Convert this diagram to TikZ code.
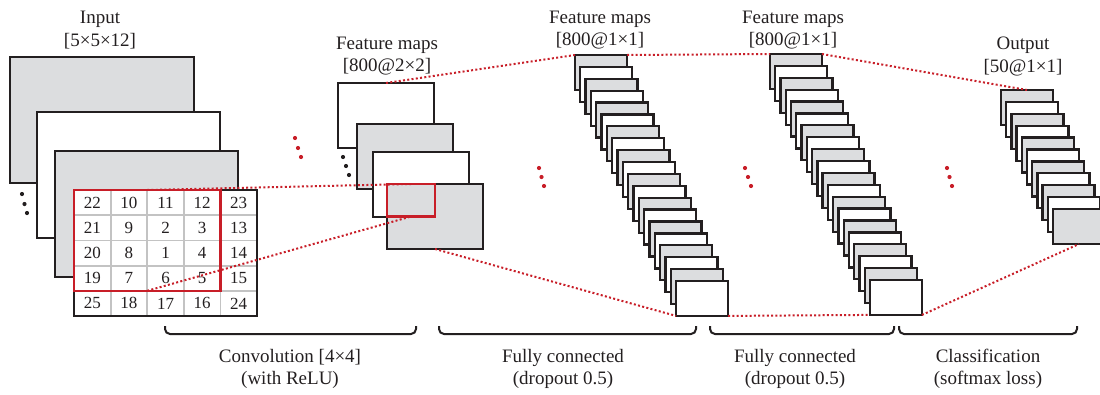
\documentclass[tikz,border=0pt]{standalone}
\usepackage{fontspec}
\setmainfont{Liberation Serif}
\definecolor{boxgray}{RGB}{220,221,223}
\definecolor{edge}{RGB}{35,31,32}
\definecolor{netred}{RGB}{200,30,40}
\definecolor{gridgray}{RGB}{195,195,195}
\begin{document}
\begin{tikzpicture}[x=1pt,y=-1pt,
  sheet/.style={draw=edge,line width=2.3pt,inner sep=0pt,outer sep=0pt,anchor=north west},
  bigsheet/.style={sheet,minimum width=183pt,minimum height=126pt},
  midsheet/.style={sheet,minimum width=96pt,minimum height=65pt},
  smallsheet/.style={sheet,minimum width=52pt,minimum height=35pt},
  redbox/.style={draw=netred,line width=2.2pt,inner sep=0pt,outer sep=0pt,anchor=north west},
  reddot/.style={draw=netred,line width=2pt,dash pattern=on 2pt off 2.3pt},
  lbl/.style={text=edge,font=\fontsize{19}{23}\selectfont,inner sep=0pt,anchor=base},
  num/.style={text=edge,font=\fontsize{17}{20}\selectfont,inner sep=0pt},
  bracket/.style={draw=edge,line width=2pt,rounded corners=5pt},
  blackdot/.style={fill=edge},
  reddotf/.style={fill=netred}
]
\useasboundingbox (0,0) rectangle (1100,394);

% ---------- Input stack ----------
\node[bigsheet,fill=boxgray,minimum width=184pt] (in1) at (10,57) {};
\node[bigsheet,fill=white] (in2) at (37,112) {};
\node[bigsheet,fill=boxgray] (in3) at (55,151) {};
\node[bigsheet,fill=white] (grid) at (74,190) {};
\draw[gridgray,line width=1.8pt]
  \foreach \k in {1,...,4} {(74+36.6*\k,191) -- (74+36.6*\k,315)}
  \foreach \k in {1,...,4} {(75,190+25.2*\k) -- (256,190+25.2*\k)};
\draw[draw=edge,line width=2.3pt] (grid.north west) rectangle (grid.south east);
\foreach \r [count=\j from 0] in {{22,10,11,12,23},{21,9,2,3,13},{20,8,1,4,14},{19,7,6,5,15},{25,18,17,16,24}} {
  \foreach \v [count=\c from 0] in \r {
    \node[num] (n\j\c) at (74+18.3+36.6*\c,190+12.6+25.2*\j) {\v};
  }
}
\node[redbox,minimum width=146.4pt,minimum height=100.8pt] (gred) at (74,190) {};

\node[lbl] (inA) at (100,23) {Input};
\node[lbl] (inB) at (100,46) {[5×5×12]};

% ---------- Feature maps 2x2 ----------
\node[midsheet,fill=white] (fm1) at (338,83) {};
\node[midsheet,fill=boxgray] (fm2) at (357,124) {};
\node[midsheet,fill=white] (fm3) at (373,152) {};
\node[midsheet,fill=boxgray] (fm4) at (387,184) {};
\node[redbox,minimum width=48pt,minimum height=32.5pt] (fred) at (387,184) {};
\node[lbl] (fmA) at (387,49) {Feature maps};
\node[lbl] (fmB) at (387,71) {[800@2×2]};

% ---------- FC1 stack ----------
\foreach \i in {0,...,19} {
  \ifodd\i\def\fc{white}\else\def\fc{boxgray}\fi
  \node[smallsheet,fill=\fc] (fa\i) at (575+5.32*\i,55+11.89*\i) {};
}
\node[lbl] (faA) at (600,23) {Feature maps};
\node[lbl] (faB) at (600,45) {[800@1×1]};

% ---------- FC2 stack ----------
\foreach \i in {0,...,19} {
  \ifodd\i\def\fc{white}\else\def\fc{boxgray}\fi
  \node[smallsheet,fill=\fc] (fb\i) at (770+5.26*\i,54+11.89*\i) {};
}
\node[lbl] (fbA) at (793,23) {Feature maps};
\node[lbl] (fbB) at (793,45) {[800@1×1]};

% ---------- Output stack ----------
\foreach \i in {0,...,10} {
  \ifodd\i\def\fc{white}\else\def\fc{boxgray}\fi
  \node[smallsheet,fill=\fc] (out\i) at (1001+5.2*\i,90+11.9*\i) {};
}
\node[lbl] (outA) at (1023,49) {Output};
\node[lbl] (outB) at (1023,72) {[50@1×1]};

% ---------- dotted connectors ----------
\draw[reddot] (gred.north) -- (fred.north);
\draw[reddot] (gred.south) -- (fred.south);
\draw[reddot] (fm1.north) -- (fa0.north west);
\draw[reddot] (fm4.south) -- (fa19.south west);
\draw[reddot] (fa0.north east) -- (fb0.north west);
\draw[reddot] (fa19.south east) -- (fb19.south west);
\draw[reddot] (fb0.north east) -- (out0.north);
\draw[reddot] (fb19.south east) -- (out10.south);

% ---------- ellipsis dots ----------
\foreach \p in {(22,194),(24.5,204),(27,213),(343,157),(346,166),(349,175)} \fill[blackdot] \p circle (2.1pt);
\foreach \p in {(295,138),(298,148),(301,157),(539,168),(541.5,177),(544,186),(745,168),(748,177),(751,186),(947,168),(949.5,177),(952,186)} \fill[reddotf] \p circle (2.1pt);

% ---------- brackets ----------
\draw[bracket] (165,326) -- (165,334) -- (416,334) -- (416,326);
\draw[bracket] (439,326) -- (439,334) -- (696,334) -- (696,326);
\draw[bracket] (710,326) -- (710,334) -- (894,334) -- (894,326);
\draw[bracket] (899,326) -- (899,334) -- (1077,334) -- (1077,326);

\node[lbl] (bA1) at (290,362) {Convolution [4×4]};
\node[lbl] (bA2) at (290,384) {(with ReLU)};
\node[lbl] (bB1) at (563,362) {Fully connected};
\node[lbl] (bB2) at (563,384) {(dropout 0.5)};
\node[lbl] (bC1) at (795,362) {Fully connected};
\node[lbl] (bC2) at (795,384) {(dropout 0.5)};
\node[lbl] (bD1) at (988,362) {Classification};
\node[lbl] (bD2) at (988,384) {(softmax loss)};
\end{tikzpicture}
\end{document}
